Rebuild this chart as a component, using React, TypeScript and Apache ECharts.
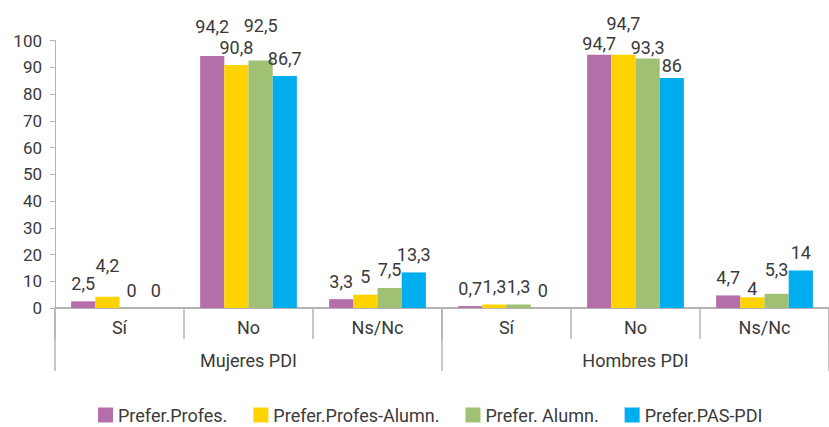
import React, { useEffect, useRef } from "react";
import * as echarts from "echarts";

const categories = ["Sí", "No", "Ns/Nc", "Sí", "No", "Ns/Nc"];
const groups = ["Mujeres PDI", "Hombres PDI"];
const seriesNames = ["Prefer.Profes.", "Prefer.Profes-Alumn.", "Prefer. Alumn.", "Prefer.PAS-PDI"];
const preferProfes = [2.5, 94.2, 3.3, 0.7, 94.7, 4.7];
const preferProfesAlumn = [4.2, 90.8, 5, 1.3, 94.7, 4];
const preferAlumn = [0, 92.5, 7.5, 1.3, 93.3, 5.3];
const preferPasPdi = [0, 86.7, 13.3, 0, 86, 14];
const yTicks = { min: 0, max: 100, interval: 10 };

// label nudges (px, vertical) to mimic the reference label placement
const labelNudge = [
  [0, -12, 0, 0, 7, 0],
  [-13, 0, 0, 0, -13, 9],
  [0, -17, 0, 0, 7, -6],
  [0, 0, 0, 0, 6, 0],
];

const colors = ["#B46EAA", "#FFD300", "#A0C173", "#00AEEF"];
const FONT = "Roboto";
const TEXT = "#3a3a3a";

export default function App() {
  const ref = useRef<HTMLDivElement>(null);
  useEffect(() => {
    if (!ref.current) return;
    const chart = echarts.init(ref.current, undefined, { renderer: "svg" });
    const allData = [preferProfes, preferProfesAlumn, preferAlumn, preferPasPdi];
    chart.setOption({
      animation: false,
      backgroundColor: "#ffffff",
      textStyle: { fontFamily: FONT },
      grid: { left: 55, right: -12, top: 40.5, bottom: 119, containLabel: false },
      legend: {
        left: 98,
        top: 406,
        padding: 0,
        itemWidth: 15,
        itemHeight: 15,
        itemGap: 26,
        icon: "rect",
        textStyle: { fontFamily: FONT, fontSize: 18, color: TEXT, padding: [0, 0, 0, 0] },
        data: seriesNames,
      },
      xAxis: [
        {
          type: "category",
          data: categories,
          position: "bottom",
          axisLine: { show: true, lineStyle: { color: "#b4b4b4", width: 2 } },
          axisTick: { show: true, length: 31, alignWithLabel: false, lineStyle: { color: "#b4b4b4", width: 1.5 } },
          axisLabel: { fontFamily: FONT, fontSize: 18, color: TEXT, margin: 10 },
        },
        {
          type: "category",
          data: groups,
          position: "bottom",
          offset: 0,
          axisLine: { show: false },
          axisTick: { show: true, length: 63, lineStyle: { color: "#b4b4b4", width: 1.5 } },
          axisLabel: { fontFamily: FONT, fontSize: 18, color: TEXT, margin: 43 },
        },
      ],
      yAxis: {
        type: "value",
        min: yTicks.min,
        max: yTicks.max,
        interval: yTicks.interval,
        axisLine: { show: true, lineStyle: { color: "#b4b4b4", width: 1 } },
        axisTick: { show: true, length: 5, lineStyle: { color: "#b4b4b4" } },
        splitLine: { show: false },
        axisLabel: { fontFamily: FONT, fontSize: 17, color: TEXT, margin: 13 },
      },
      series: allData.map((d, si) => ({
        name: seriesNames[si],
        type: "bar",
        xAxisIndex: 0,
        data: d,
        barGap: "0%",
        barCategoryGap: "25%",
        itemStyle: { color: colors[si] },
        label: {
          show: true,
          position: "top",
          distance: 9,
          fontFamily: FONT,
          fontSize: 18,
          lineHeight: 18,
          color: TEXT,
          formatter: (p: any) => String(p.value).replace(".", ","),
        },
        labelLayout: (p: any) => ({ dy: labelNudge[si][p.dataIndex] || 0 }),
      })),
    });
    return () => chart.dispose();
  }, []);
  return (
    <div
      ref={ref}
      style={{ position: "fixed", left: 0, top: 0, width: 829, height: 427 }}
    />
  );
}
